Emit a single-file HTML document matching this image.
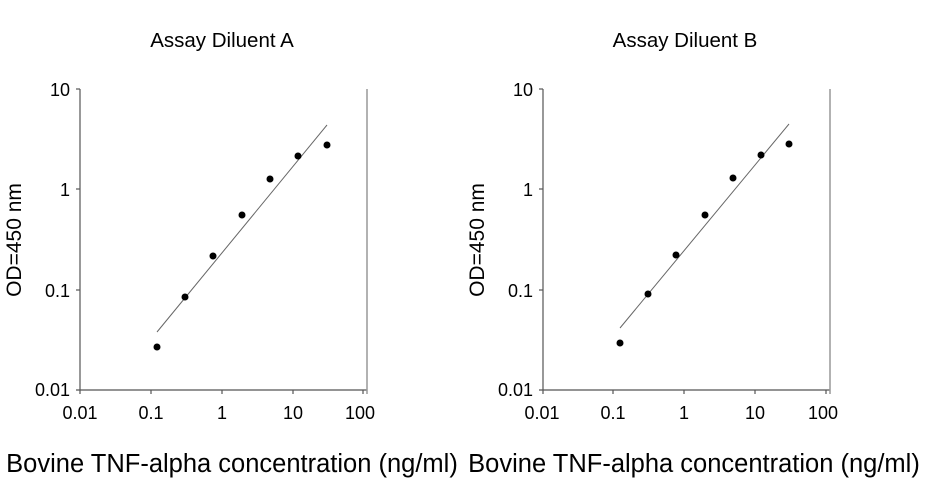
<!DOCTYPE html>
<html><head><style>body{margin:0;background:#fff}svg{display:block}text{font-family:"Liberation Sans",sans-serif;fill:#000}</style></head><body>
<svg width="926" height="480" viewBox="0 0 926 480">
<rect width="926" height="480" fill="#fff"/>
<!-- Left -->
<text x="222" y="47" font-size="20.5" text-anchor="middle">Assay Diluent A</text>
<line x1="80" y1="89" x2="80" y2="394" stroke="#555" stroke-width="1.2"/>
<line x1="76" y1="390" x2="367" y2="390" stroke="#555" stroke-width="1.2"/>
<line x1="367" y1="89" x2="367" y2="394" stroke="#999" stroke-width="1.5"/>
<g stroke="#555" stroke-width="1.2"><line x1="76" y1="89" x2="80" y2="89"/><line x1="76" y1="189" x2="80" y2="189"/><line x1="76" y1="290" x2="80" y2="290"/>
<line x1="151" y1="390" x2="151" y2="394"/><line x1="222" y1="390" x2="222" y2="394"/><line x1="293" y1="390" x2="293" y2="394"/><line x1="363" y1="390" x2="363" y2="394"/></g>
<g font-size="18" text-anchor="end"><text x="70" y="96">10</text><text x="70" y="196">1</text><text x="70" y="297">0.1</text><text x="70" y="396">0.01</text></g>
<g font-size="18" text-anchor="middle"><text x="80" y="419">0.01</text><text x="151" y="419">0.1</text><text x="222" y="419">1</text><text x="293" y="419">10</text><text x="360" y="419">100</text></g>
<line x1="157" y1="332" x2="327" y2="125" stroke="#666" stroke-width="1"/>
<g fill="#000"><circle cx="157" cy="347" r="3.5"/><circle cx="185" cy="297" r="3.5"/><circle cx="213" cy="256" r="3.5"/><circle cx="242" cy="215" r="3.5"/><circle cx="270" cy="179" r="3.5"/><circle cx="298" cy="156" r="3.5"/><circle cx="327" cy="145" r="3.5"/></g>
<text transform="translate(21,240) rotate(-90)" font-size="21" text-anchor="middle">OD=450 nm</text>
<text x="232" y="472" font-size="25.5" text-anchor="middle">Bovine TNF-alpha concentration (ng/ml)</text>
<!-- Right -->
<text x="685" y="47" font-size="20.5" text-anchor="middle">Assay Diluent B</text>
<line x1="543" y1="89" x2="543" y2="394" stroke="#555" stroke-width="1.2"/>
<line x1="539" y1="390" x2="830" y2="390" stroke="#555" stroke-width="1.2"/>
<line x1="830" y1="89" x2="830" y2="394" stroke="#999" stroke-width="1.5"/>
<g stroke="#555" stroke-width="1.2"><line x1="539" y1="89" x2="543" y2="89"/><line x1="539" y1="189" x2="543" y2="189"/><line x1="539" y1="290" x2="543" y2="290"/>
<line x1="613" y1="390" x2="613" y2="394"/><line x1="684" y1="390" x2="684" y2="394"/><line x1="755" y1="390" x2="755" y2="394"/><line x1="826" y1="390" x2="826" y2="394"/></g>
<g font-size="18" text-anchor="end"><text x="533" y="96">10</text><text x="533" y="196">1</text><text x="533" y="297">0.1</text><text x="533" y="396">0.01</text></g>
<g font-size="18" text-anchor="middle"><text x="542" y="419">0.01</text><text x="613" y="419">0.1</text><text x="684" y="419">1</text><text x="755" y="419">10</text><text x="823" y="419">100</text></g>
<line x1="620" y1="328" x2="789" y2="124" stroke="#666" stroke-width="1"/>
<g fill="#000"><circle cx="620" cy="343" r="3.5"/><circle cx="648" cy="294" r="3.5"/><circle cx="676" cy="255" r="3.5"/><circle cx="705" cy="215" r="3.5"/><circle cx="733" cy="178" r="3.5"/><circle cx="761" cy="155" r="3.5"/><circle cx="789" cy="144" r="3.5"/></g>
<text transform="translate(484,240) rotate(-90)" font-size="21" text-anchor="middle">OD=450 nm</text>
<text x="694" y="472" font-size="25.5" text-anchor="middle">Bovine TNF-alpha concentration (ng/ml)</text>
</svg>
</body></html>
